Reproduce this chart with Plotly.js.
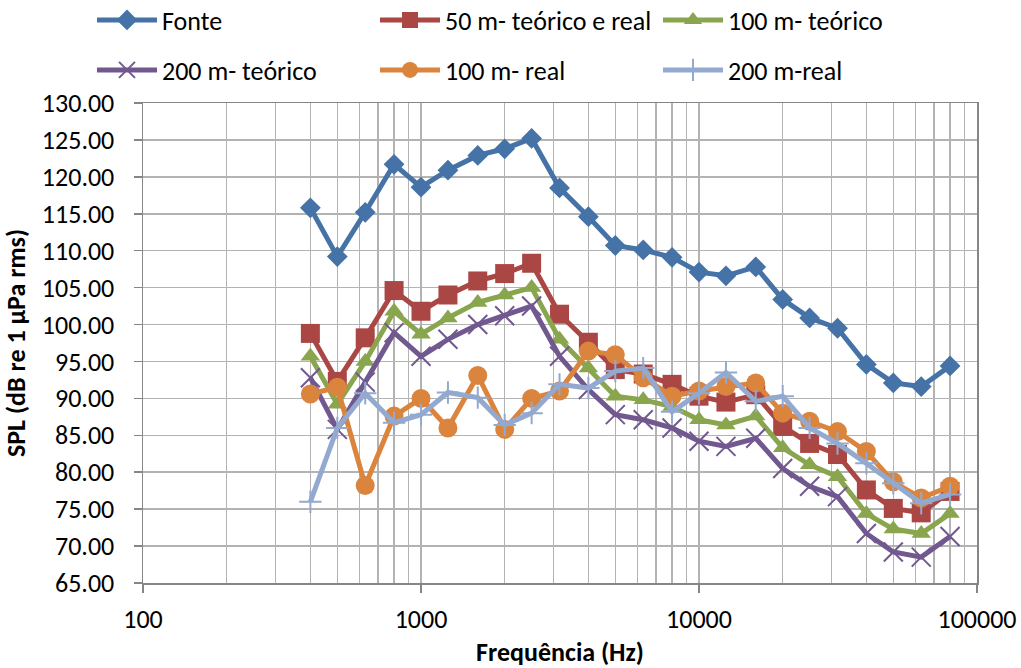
<!DOCTYPE html>
<html><head><meta charset="utf-8">
<script src="https://cdn.plot.ly/plotly-3.0.1.min.js"></script>
<style>html,body{margin:0;padding:0;background:#fff}#c{width:1021px;height:668px}</style>
</head><body><div id="c"></div>
<script>
const freqs = [400,500,630,800,1000,1250,1600,2000,2500,3150,4000,5000,6300,8000,10000,12500,16000,20000,25000,31500,40000,50000,63000,80000];
const fonte = [115.8,109.2,115.2,121.7,118.6,120.9,122.9,123.8,125.2,118.5,114.6,110.7,110.1,109.1,107.1,106.6,107.8,103.4,100.9,99.5,94.6,92.1,91.6,94.4];
const m50 = [98.8,92.3,98.2,104.6,101.8,104.0,105.9,106.9,108.3,101.4,97.6,93.9,93.3,91.9,90.3,89.5,90.5,86.2,83.9,82.4,77.6,75.1,74.5,77.4];
const m100t = [95.7,89.2,95.0,101.8,98.7,100.9,103.0,104.0,105.0,98.0,94.1,90.3,89.8,88.9,87.1,86.4,87.6,83.3,81.0,79.4,74.4,72.3,71.7,74.4];
const m200t = [92.8,85.8,92.2,98.9,95.7,98.0,100.0,101.2,102.5,95.7,91.2,87.8,87.1,86.0,84.2,83.5,84.6,80.5,78.1,76.7,71.7,69.2,68.5,71.3];
const m100r = [90.6,91.5,78.2,87.6,90.0,86.0,93.1,85.8,90.0,91.0,96.4,95.9,92.8,90.3,91.0,91.6,92.1,88.0,86.9,85.5,82.8,78.7,76.5,78.1];
const m200r = [76.0,86.0,90.7,86.7,87.8,90.8,90.1,86.4,88.0,91.9,91.4,93.7,94.1,88.2,90.7,93.5,89.6,90.3,86.0,83.9,81.2,78.5,75.8,77.0];
const names = ['Fonte','50 m- teórico e real','100 m- teórico','200 m- teórico','100 m- real','200 m-real'];
const yTicks = [65,70,75,80,85,90,95,100,105,110,115,120,125,130];
const xTicks = [100,1000,10000,100000];

const series = [fonte,m50,m100t,m200t,m100r,m200r];
const colors = ['#4572a7','#aa4643','#89a54e','#71588f','#db843d','#93a9cf'];
const symbols = ['diamond','square','triangle-up','x-thin','circle','cross-thin'];
const msizes = [16,19,17,19,19,16];
const legendIds = ['legend','legend2','legend3','legend4','legend5','legend6'];
const traces = series.map((s,i)=>({
  x: freqs, y: s, name: names[i], type:'scatter', mode:'lines+markers',
  line:{color:colors[i], width:5},
  marker:{symbol:symbols[i], size:msizes[i], color:colors[i], line:{color:colors[i], width:(i===3||i===5)?2:0}},
  legend: legendIds[i]
}));
const font = "Carlito, 'Liberation Sans Narrow', 'Liberation Sans', sans-serif";
const W = 834, H = 480, L = 143, T = 103;
const legPos = [[92,20],[375,20],[658,20],[92,70],[375,70],[658,70]];
const layout = {
  width:1021, height:668,
  margin:{l:L, r:44, t:T, b:85, autoexpand:false},
  paper_bgcolor:'#fff', plot_bgcolor:'#fff',
  font:{family:font, size:26, color:'#000'},
  xaxis:{type:'log', range:[2,5], tickvals:xTicks, ticktext:xTicks.map(String),
    showgrid:true, gridcolor:'#b3b3b3', gridwidth:1.5,
    minor:{showgrid:true, gridcolor:'#b3b3b3', gridwidth:1.5, dtick:'D1'},
    showline:true, linecolor:'#868686', linewidth:1.5, mirror:true,
    ticks:'outside', ticklen:8, tickcolor:'#868686', tickwidth:1.5, ticklabelstandoff:4, zeroline:false,
    tickfont:{family:font, size:26},
    title:{text:'Frequência (Hz)', font:{family:font, size:26, color:'#000', weight:'bold'}, standoff:12}},
  yaxis:{range:[65,130], tickvals:yTicks, tickformat:'.2f',
    showgrid:true, gridcolor:'#b3b3b3', gridwidth:1.5,
    showline:true, linecolor:'#868686', linewidth:1.5, mirror:true,
    ticks:'outside', ticklen:8, tickcolor:'#868686', tickwidth:1.5, ticklabelstandoff:14, zeroline:false,
    tickfont:{family:font, size:26},
    title:{text:'SPL (dB re 1 µPa rms)', font:{family:font, size:26, color:'#000', weight:'bold'}, standoff:10}},
  showlegend:true
};
legendIds.forEach((id,i)=>{
  layout[id] = {x:(legPos[i][0]-L)/W, y:(T + H - legPos[i][1]) / H, xanchor:'left', yanchor:'middle',
    orientation:'v', font:{family:font, size:26, color:'#000'}, itemwidth:60,
    bgcolor:'rgba(0,0,0,0)', borderwidth:0};
});
Plotly.newPlot('c', traces, layout, {displayModeBar:false, staticPlot:true});
</script></body></html>
